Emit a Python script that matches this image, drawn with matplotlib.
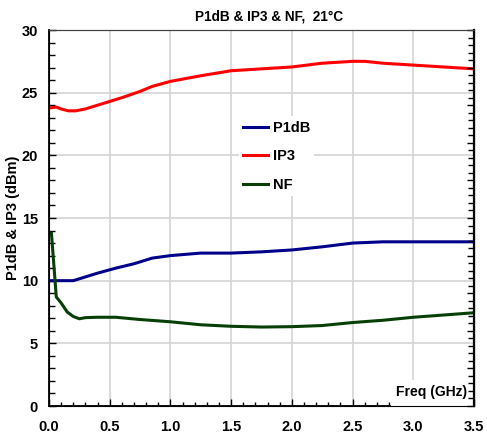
import matplotlib
matplotlib.use("Agg")
import matplotlib.pyplot as plt
from matplotlib.ticker import MultipleLocator, FormatStrFormatter

plt.rcParams['font.family'] = ['Liberation Sans', 'DejaVu Sans']
plt.rcParams['font.weight'] = 'bold'

# Data
freq_p1db = [0.02, 0.1, 0.2, 0.3, 0.4, 0.55, 0.7, 0.85, 1.0, 1.25, 1.5, 1.75, 2.0, 2.25, 2.5, 2.75, 3.0, 3.25, 3.5]
p1db = [10.0, 10.0, 10.0, 10.3, 10.6, 11.0, 11.35, 11.8, 12.0, 12.2, 12.2, 12.3, 12.45, 12.7, 13.0, 13.1, 13.1, 13.1, 13.1]

freq_ip3 = [0.02, 0.06, 0.1, 0.16, 0.22, 0.3, 0.4, 0.5, 0.6, 0.75, 0.85, 1.0, 1.25, 1.5, 1.75, 2.0, 2.25, 2.5, 2.6, 2.75, 3.0, 3.25, 3.5]
ip3 = [23.8, 23.85, 23.7, 23.55, 23.55, 23.7, 24.0, 24.3, 24.6, 25.1, 25.5, 25.9, 26.35, 26.75, 26.9, 27.05, 27.35, 27.5, 27.5, 27.35, 27.2, 27.05, 26.9]

freq_nf = [0.02, 0.06, 0.1, 0.15, 0.2, 0.25, 0.3, 0.4, 0.55, 0.75, 1.0, 1.25, 1.5, 1.75, 2.0, 2.25, 2.5, 2.75, 3.0, 3.25, 3.5]
nf_db = [2.3, 1.45, 1.37, 1.25, 1.19, 1.16, 1.175, 1.18, 1.18, 1.15, 1.12, 1.08, 1.06, 1.05, 1.055, 1.07, 1.11, 1.14, 1.18, 1.21, 1.24]

fig = plt.figure(figsize=(4.87, 4.37), dpi=100)
ax = fig.add_axes([49/487, 1-406/437, (474-49)/487, (406-30)/437])
ax2 = ax.twinx()

l1, = ax.plot(freq_p1db, p1db, color='#00008B', lw=2.2, label='P1dB')
l2, = ax.plot(freq_ip3, ip3, color='#FF0000', lw=2.2, label='IP3')
l3, = ax2.plot(freq_nf, nf_db, color='#073F07', lw=2.2, label='NF')

ax.set_xlim(0, 3.5)
ax.set_ylim(0, 30)
ax2.set_ylim(0, 5)

ax.xaxis.set_major_locator(MultipleLocator(0.5))
ax.xaxis.set_minor_locator(MultipleLocator(0.1))
ax.yaxis.set_major_locator(MultipleLocator(5))
ax.yaxis.set_minor_locator(MultipleLocator(1))
ax.xaxis.set_major_formatter(FormatStrFormatter('%.1f'))
ax2.yaxis.set_major_locator(MultipleLocator(0.5))
ax2.yaxis.set_minor_locator(MultipleLocator(0.1))
ax2.yaxis.set_major_formatter(FormatStrFormatter('%.1f'))

ax.grid(True, which='major', color='#D4D4D4', lw=1.2)
ax.set_axisbelow(True)

ax.tick_params(axis='x', which='both', direction='in', top=False, pad=10, labelsize=10.5)
ax.tick_params(axis='x', which='major', length=5, width=1)
ax.tick_params(axis='x', which='minor', length=3, width=1)
ax.tick_params(axis='y', which='both', direction='in', right=False, pad=8, labelsize=10.5)
ax.tick_params(axis='y', which='major', length=5, width=1)
ax.tick_params(axis='y', which='minor', length=4, width=1)
ax2.tick_params(axis='y', which='both', direction='in', pad=10, labelsize=10.5)
ax2.tick_params(axis='y', which='major', length=5, width=1)
ax2.tick_params(axis='y', which='minor', length=4, width=1)

for s in ['left', 'bottom']:
    ax.spines[s].set_linewidth(1.3)
ax2.spines['right'].set_linewidth(1.6)
ax.spines['top'].set_color('#404040')
ax2.spines['top'].set_color('#404040')

ax.set_ylabel('P1dB & IP3 (dBm)', fontsize=10.5, fontweight='bold', labelpad=1)
ax.set_title('P1dB & IP3 & NF,  21°C', fontsize=9.8, fontweight='bold', pad=7, x=0.518)
ax.text(0.985, 0.018, 'Freq (GHz)', transform=ax.transAxes, ha='right', va='bottom',
        fontsize=10, fontweight='bold', backgroundcolor='white')

leg = ax2.legend(handles=[l1, l2, l3], loc='upper left', bbox_to_anchor=(0.43, 0.79),
                 frameon=True, fontsize=10.5, handlelength=1.7, handletextpad=0.3,
                 labelspacing=1.0, borderpad=0.3)
leg.get_frame().set_edgecolor('none')
leg.get_frame().set_facecolor('white')
leg.get_frame().set_alpha(1)

fig.savefig('out.png', dpi=100)
